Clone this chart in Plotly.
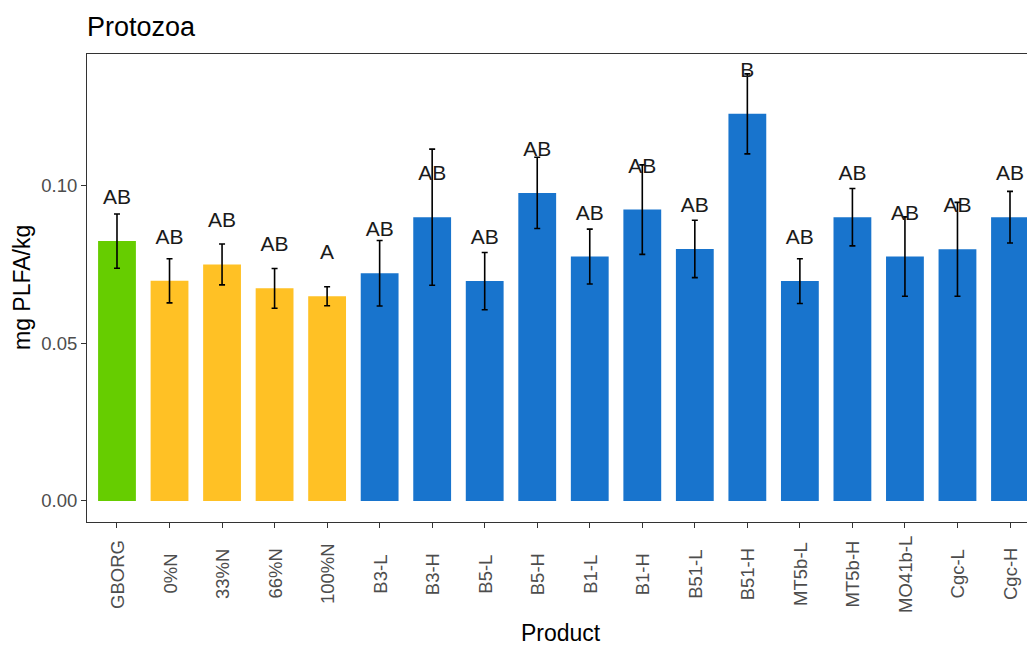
import plotly.graph_objects as go

# values
products = ['GBORG', '0%N', '33%N', '66%N', '100%N', 'B3-L', 'B3-H', 'B5-L', 'B5-H',
            'B1-L', 'B1-H', 'B51-L', 'B51-H', 'MT5b-L', 'MT5b-H', 'MO41b-L', 'Cgc-L', 'Cgc-H']
means = [0.0825, 0.0699, 0.0751, 0.0675, 0.0650, 0.0723, 0.0901, 0.0698, 0.0978,
         0.0776, 0.0925, 0.0800, 0.1229, 0.0698, 0.0901, 0.0776, 0.0799, 0.0901]
errors = [0.0086, 0.0070, 0.0065, 0.0063, 0.0030, 0.0104, 0.0216, 0.0091, 0.0113,
          0.0087, 0.0142, 0.0091, 0.0127, 0.0071, 0.0091, 0.0126, 0.0149, 0.0082]
letters = ['AB', 'AB', 'AB', 'AB', 'A', 'AB', 'AB', 'AB', 'AB',
           'AB', 'AB', 'AB', 'B', 'AB', 'AB', 'AB', 'AB', 'AB']
groups = ['control'] + ['mineral'] * 4 + ['bio'] * 13

group_colors = {'control': '#66CD00', 'mineral': '#FFC125', 'bio': '#1874CD'}
font = 'Liberation Sans, Arial, sans-serif'

# the page body adds an 8px offset, so the figure is 8px smaller than the window
W, H = 1027, 638
L, T, B = 79, 46, 124
plot_w, plot_h = W - L, H - T - B

fig = go.Figure()

fig.add_trace(go.Bar(
    x=products,
    y=means,
    width=0.72,
    marker=dict(color=[group_colors[g] for g in groups], line=dict(width=0)),
    error_y=dict(type='data', array=errors, color='black', thickness=1.6, width=3),
    showlegend=False,
    hoverinfo='skip',
))

# significance letters sit a fixed distance above each mean
fig.add_trace(go.Scatter(
    x=products,
    y=[m + 0.0134 for m in means],
    mode='text',
    text=letters,
    textposition='middle center',
    textfont=dict(family=font, size=21, color='#1a1a1a'),
    showlegend=False,
    hoverinfo='skip',
))

# centred, rotated category labels (like ggplot hjust = 0.5)
for p in products:
    fig.add_annotation(
        x=p, xref='x', y=-52 / plot_h, yref='paper',
        text=p, textangle=-90, showarrow=False,
        xanchor='center', yanchor='middle',
        font=dict(family=font, size=18.5, color='#4D4D4D'),
    )

# axis titles
fig.add_annotation(x=0.5, xref='paper', y=-111 / plot_h, yref='paper', text='Product',
                   showarrow=False, xanchor='center', yanchor='middle',
                   font=dict(family=font, size=23, color='black'))
fig.add_annotation(x=-65 / plot_w, xref='paper', y=0.5, yref='paper', text='mg PLFA/kg',
                   textangle=-90, showarrow=False, xanchor='center', yanchor='middle',
                   font=dict(family=font, size=23, color='black'))

fig.update_layout(
    width=W,
    height=H,
    margin=dict(l=L, r=0, t=T, b=B),
    paper_bgcolor='white',
    plot_bgcolor='white',
    title=dict(text='Protozoa', x=L / W, xanchor='left', xref='container',
               y=1 - 19 / H, yanchor='middle',
               font=dict(family=font, size=27, color='black')),
    xaxis=dict(
        type='category',
        range=[-0.571, 17.476],
        showticklabels=False,
        ticks='outside', ticklen=5, tickcolor='#333333', tickwidth=1.1,
        showline=True, linecolor='#333333', linewidth=1.1, mirror=True,
        showgrid=False, zeroline=False,
    ),
    yaxis=dict(
        range=[-0.00667, 0.1419],
        tickvals=[0, 0.05, 0.10],
        ticktext=['0.00', '0.05', '0.10'],
        ticks='outside', ticklen=5, tickcolor='#333333', tickwidth=1.1,
        tickfont=dict(family=font, size=18.5, color='#4D4D4D'),
        showline=True, linecolor='#333333', linewidth=1.1,
        showgrid=False, zeroline=False,
    ),
)

fig.write_html("out.html")
